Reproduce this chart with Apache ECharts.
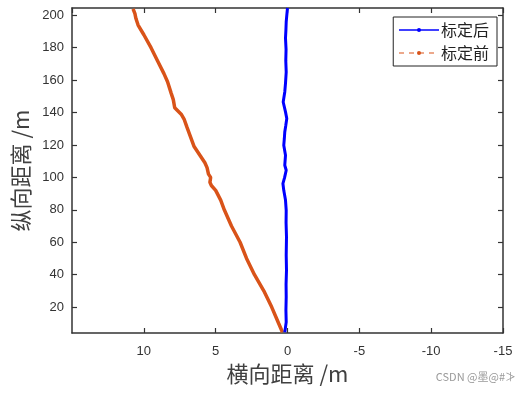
<!DOCTYPE html>
<html>
<head>
<meta charset="utf-8">
<script src="https://cdn.jsdelivr.net/npm/echarts@6/dist/echarts.min.js"></script>
<style>html,body{margin:0;padding:0;background:#fff}#c{width:530px;height:395px}</style>
</head>
<body>
<div id="c"></div>
<script>
// Series names
const seriesNames = ['标定后', '标定前'];
// 标定后 (after calibration): longitudinal y and lateral x
const afterY = [4.5, 10.7, 18, 26.2, 34, 42.7, 52, 63.2, 72, 79.7, 86, 92, 96.2, 100, 104.4, 107.5, 113.6, 119.8, 124, 128, 132, 136.3, 140.4, 146.5, 152.7, 158, 165, 172, 179, 185.9, 191, 195.9, 200, 204.5];
const afterX = [0.19, 0.09, 0.11, 0.09, 0.1, 0.07, 0.09, 0.07, 0.1, 0.09, 0.14, 0.26, 0.32, 0.2, 0.09, 0.19, 0.14, 0.26, 0.22, 0.19, 0.12, 0.05, 0.14, 0.3, 0.19, 0.14, 0.09, 0.12, 0.1, 0.14, 0.11, 0.09, 0.05, 0.0];
// 标定前 (before calibration)
const beforeY = [4.5, 10, 20, 30, 40, 50, 60, 70, 80, 86, 92, 95, 97, 100, 102, 106, 109, 113, 119, 125, 131, 136, 139, 143, 148, 152, 159, 164, 172, 180, 188, 194, 198, 201, 204];
const beforeX = [0.35, 0.62, 1.1, 1.65, 2.3, 2.85, 3.3, 3.9, 4.4, 4.65, 5.0, 5.3, 5.4, 5.35, 5.5, 5.6, 5.75, 6.05, 6.5, 6.75, 7.0, 7.2, 7.4, 7.85, 7.95, 8.1, 8.35, 8.6, 9.05, 9.5, 10.0, 10.4, 10.55, 10.62, 10.75];
// Tick labels
const yTicks = [20, 40, 60, 80, 100, 120, 140, 160, 180, 200];
const xTicks = [-15, -10, -5, 0, 5, 10, 15];

const afterData = afterY.map((y, i) => [afterX[i], y]);
const beforeData = beforeY.map((y, i) => [beforeX[i], y]);

const chart = echarts.init(document.getElementById('c'));
const axisCol = '#333';
const tickFont = {color: '#333', fontSize: 13, fontFamily: 'Liberation Sans, Arial, sans-serif'};
const nameFont = {color: '#404040', fontSize: 22, fontFamily: 'Noto Sans CJK SC, sans-serif'};

const xBase = {
  type: 'value', min: -15, max: 15, interval: 5, inverse: true,
  axisLine: {show: true, onZero: false, lineStyle: {color: axisCol, width: 1.5}},
  axisTick: {show: true, inside: true, length: 5, lineStyle: {color: axisCol, width: 1.2}},
  splitLine: {show: false}
};
const yBase = {
  type: 'value', min: 4, max: 204.5,
  axisLine: {show: true, onZero: false, lineStyle: {color: axisCol, width: 1.5}},
  axisTick: {show: true, inside: true, length: 5, customValues: yTicks, lineStyle: {color: axisCol, width: 1.2}},
  splitLine: {show: false}
};

chart.setOption({
  animation: false,
  backgroundColor: '#fff',
  grid: {left: 72, right: 27, top: 8, bottom: 62},
  xAxis: [
    Object.assign({}, xBase, {
      position: 'bottom',
      name: '横向距离 /m', nameLocation: 'middle', nameGap: 28, nameTextStyle: nameFont,
      axisLabel: Object.assign({show: true, margin: 12, showMaxLabel: false}, tickFont)
    }),
    Object.assign({}, xBase, {position: 'top', axisLabel: {show: false}})
  ],
  yAxis: [
    Object.assign({}, yBase, {
      position: 'left',
      name: '纵向距离 /m', nameLocation: 'middle', nameGap: 36, nameTextStyle: nameFont,
      axisLabel: Object.assign({show: true, margin: 8, customValues: yTicks}, tickFont)
    }),
    Object.assign({}, yBase, {position: 'right', axisLabel: {show: false}})
  ],
  legend: {
    orient: 'vertical',
    right: 33, top: 17,
    padding: [5, 8, 5, 5],
    itemGap: 7,
    itemWidth: 40, itemHeight: 5,
    backgroundColor: '#fff',
    borderColor: '#222', borderWidth: 1,
    textStyle: {fontSize: 16, color: '#222', fontFamily: 'Noto Sans CJK SC, serif', padding: [0, 0, 0, -3]},
    data: [
      {name: seriesNames[0], itemStyle: {color: '#0000ff'}, lineStyle: {color: '#0000ff', width: 1.5, type: 'solid'}},
      {name: seriesNames[1], itemStyle: {color: '#D95319'}, lineStyle: {color: '#D95319', width: 1, type: [5, 5]}}
    ]
  },
  series: [
    {
      name: seriesNames[0], type: 'line', data: afterData,
      xAxisIndex: 0, yAxisIndex: 0,
      symbol: 'circle', symbolSize: 4, showSymbol: false,
      lineStyle: {color: '#0000ff', width: 3}, itemStyle: {color: '#0000ff'}, z: 3
    },
    {
      name: seriesNames[1], type: 'line', data: beforeData,
      xAxisIndex: 0, yAxisIndex: 0,
      symbol: 'circle', symbolSize: 4, showSymbol: false,
      lineStyle: {color: '#D95319', width: 3.5}, itemStyle: {color: '#D95319'}, z: 2
    }
  ],
  graphic: [{
    type: 'text', right: 14, top: 371,
    style: {text: 'CSDN @墨@#≯', fill: '#999', fontSize: 11, fontFamily: 'Noto Sans CJK SC, sans-serif'}
  }]
});
</script>
</body>
</html>
